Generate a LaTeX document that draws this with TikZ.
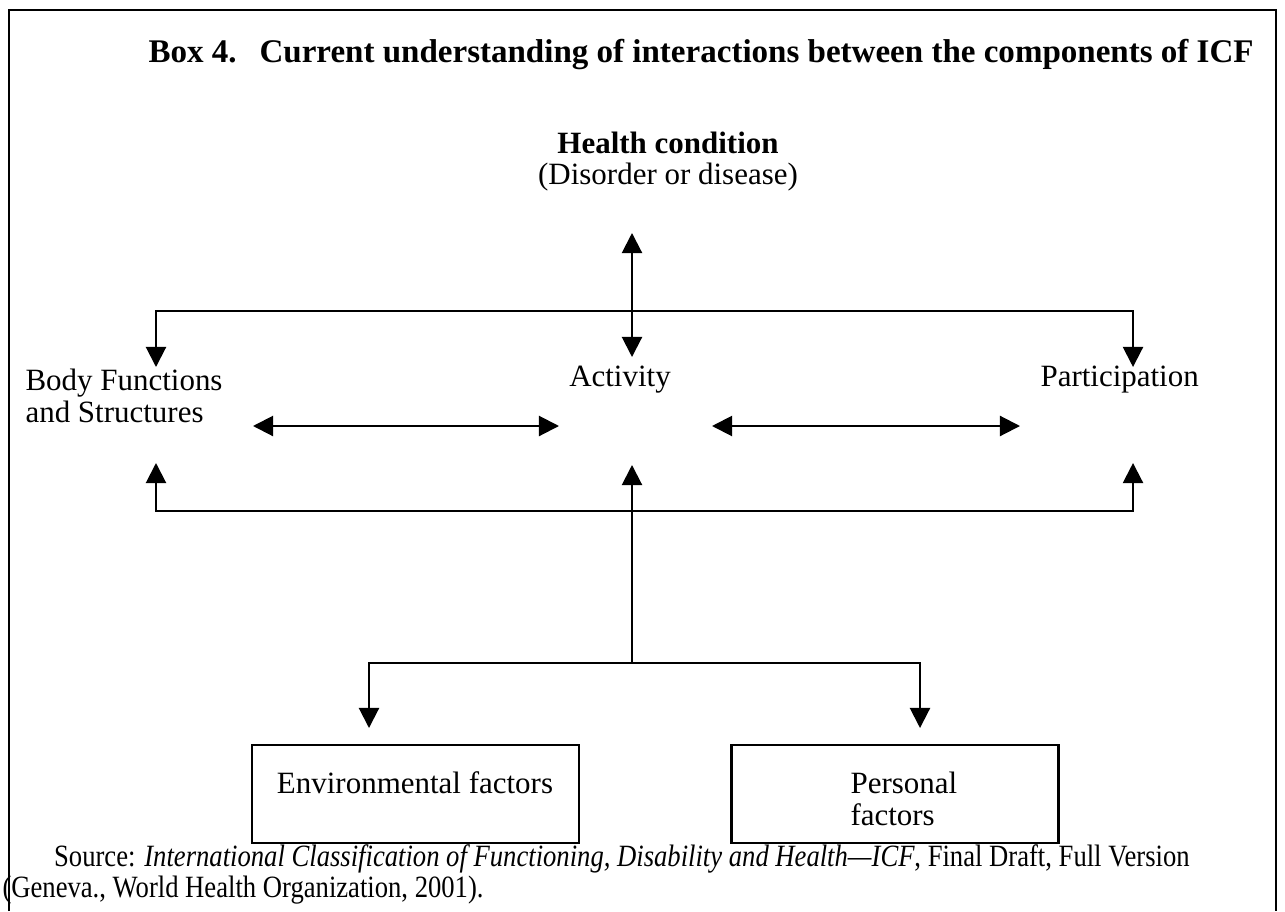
\documentclass[tikz,border=0pt]{standalone}
\usepackage{fontspec}
\setmainfont{Liberation Serif}
\newfontfamily\sourcefont[FakeStretch=0.86,Ligatures=TeX]{Liberation Serif}
\usetikzlibrary{arrows.meta}
\tikzset{
  link/.style={line width=0.8pt},
  tip/.tip={Triangle[length=7.8pt,width=7.8pt]},
  oneway/.style={link,-tip},
  twoway/.style={link,tip-tip},
  label text/.style={font=\fontsize{12}{12.6}\selectfont, inner sep=0pt},
  factorbox/.style={draw, line width=0.8pt, minimum width=126.7pt, minimum height=38pt, inner sep=0pt}
}
\begin{document}
\begin{tikzpicture}[x=0.3875pt,y=-0.3875pt]
\useasboundingbox (0,0) rectangle (1285,911);
% outer frame, open at the bottom
\draw[line width=1pt] (9,911) -- (9,10) -- (1276,10) -- (1276,911);
% title
\node[label text, anchor=west, font=\fontsize{12.8}{14}\selectfont\bfseries] (title) at (148,55)
  {Box 4.\hspace{8.9pt}Current understanding of interactions between the components of ICF};
% components
\node[label text, font=\fontsize{12}{14}\selectfont\bfseries] (health) at (668,143) {Health condition};
\node[label text] (disorder) at (668,177) {(Disorder or disease)};
\node[label text, anchor=west, align=left] (body) at (25,396) {Body Functions\\and Structures};
\node[label text] (activity) at (620,380) {Activity};
\node[label text, anchor=west] (partic) at (1040,380) {Participation};
\node[factorbox] (env) at (415.5,794) {};
\node[label text] (envtext) at (415,783) {Environmental factors};
\node[factorbox] (pers) at (895,794) {};
\node[label text, anchor=west, align=left] (perstext) at (850,799) {Personal\\factors};
% junction points
\coordinate (hctip) at (632,233);
\coordinate (topbar) at (632,311);
\coordinate (acttop) at (632,357);
\coordinate (bodytop) at (156,367);
\coordinate (partop) at (1133,367);
\coordinate (bodyleft) at (253,426);
\coordinate (actleft) at (559,426);
\coordinate (actright) at (712,426);
\coordinate (parleft) at (1020,426);
\coordinate (botbar) at (632,511);
\coordinate (bodybot) at (156,463);
\coordinate (parbot) at (1133,463);
\coordinate (actbot) at (632,465);
\coordinate (fork) at (632,663);
\coordinate (envtop) at (369,728);
\coordinate (perstop) at (920,728);
% connectors
\draw[twoway] (hctip) -- (acttop);
\draw[oneway] (topbar) -| (bodytop);
\draw[oneway] (topbar) -| (partop);
\draw[twoway] (bodyleft) -- (actleft);
\draw[twoway] (actright) -- (parleft);
\draw[oneway] (botbar) -| (bodybot);
\draw[oneway] (botbar) -| (parbot);
\draw[oneway] (fork) -- (actbot);
\draw[oneway] (fork) -| (envtop);
\draw[oneway] (fork) -| (perstop);
% source
\node[label text, anchor=north west, align=left, font=\fontsize{12}{10.2}\sourcefont] (source) at (2,844)
  {\hspace{20pt}Source: \textit{International Classification of Functioning, Disability and Health\textemdash ICF}, Final Draft, Full Version\\(Geneva., World Health Organization, 2001).};
\end{tikzpicture}
\end{document}
